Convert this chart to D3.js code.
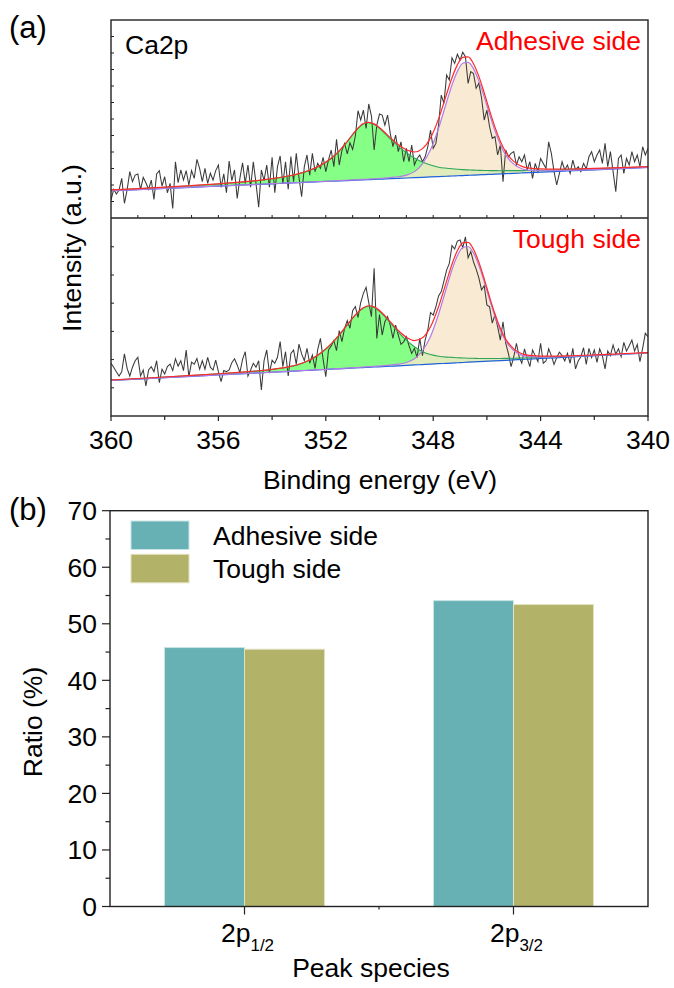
<!DOCTYPE html>
<html>
<head>
<meta charset="utf-8">
<script src="https://cdn.jsdelivr.net/npm/d3@7"></script>
<style>
  body { margin: 0; background: #fff; }
  text { font-family: "Liberation Sans", Arial, Helvetica, sans-serif; fill: #000; }
</style>
</head>
<body>
<svg id="fig" width="674" height="988"></svg>
<script>
// ---------- (a) Ca2p XPS spectra ----------
// raw spectra sampled every 0.1 eV from 360 eV down to 340 eV
const energyStart = 360;
const energyStep = 0.1;

const adhesiveCounts = [
  10.9, 17.4, 14.5, 17.0, 24.0, 8.9, 17.0, 28.1, 22.0, 26.0,
  26.7, 17.0, 24.6, 21.4, 17.4, 23.0, 11.3, 26.7, 28.7, 19.4,
  25.0, 15.3, 21.0, 5.8, 34.1, 21.4, 29.1, 23.0, 28.7, 20.0,
  28.7, 24.0, 35.5, 30.1, 22.0, 30.1, 21.0, 27.1, 23.0, 28.7,
  32.1, 18.6, 26.7, 15.3, 34.5, 22.6, 29.1, 11.9, 24.0, 33.5,
  21.0, 32.1, 18.6, 34.1, 21.0, 6.5, 29.1, 22.6, 32.1, 18.6,
  36.8, 15.3, 31.1, 37.6, 20.6, 34.1, 17.4, 37.2, 22.0, 39.2,
  24.6, 12.9, 31.1, 38.2, 26.0, 39.2, 28.1, 33.1, 30.1, 36.8,
  28.1, 35.1, 41.2, 31.1, 47.7, 32.1, 40.8, 45.2, 38.8, 45.6,
  41.6, 49.7, 65.0, 59.4, 65.4, 54.3, 69.1, 61.8, 41.2, 56.3,
  63.0,
  62.4, 56.3, 62.4, 51.3, 43.2, 50.3, 40.2, 46.2, 34.1, 42.2,
  34.1, 44.2, 32.1, 36.1, 38.2, 34.1, 37.1, 43.2, 53.3, 42.2,
  45.2, 56.3, 74.5, 69.5, 86.6, 83.6, 97.1, 93.7, 99.2, 95.7,
  100.4, 97.7, 81.6, 88.7, 87.6, 78.6, 81.6, 72.9, 59.4, 65.4,
  55.3, 48.3, 49.3, 38.2, 44.2, 22.0, 41.2, 37.1, 39.2, 40.2,
  32.1, 37.1, 34.1, 38.2, 29.1, 34.1, 24.0, 33.1, 28.1, 36.1,
  33.1, 30.1, 46.2, 39.2, 28.1, 20.0, 27.0, 34.1, 29.1, 32.1,
  27.0, 35.1, 29.1, 31.1, 28.1, 33.1, 29.7, 37.1, 40.2, 34.1,
  38.2, 41.2, 33.1, 45.2, 31.1, 40.2, 28.1, 15.9, 36.1, 38.2,
  27.0, 36.1, 32.1, 40.2, 34.1, 38.2, 31.1, 43.2, 38.2, 42.2
];

const toughCounts = [
  18.7, 17.3, 15.7, 14.2, 15.7, 22.0, 16.9, 14.2, 17.3, 19.6,
  20.8, 14.2, 16.3, 10.7, 16.3, 17.5, 15.7, 19.6, 11.8, 16.6,
  14.9, 17.5, 18.4, 16.1, 20.3, 17.7, 19.6, 16.1, 23.4, 13.9,
  19.1, 18.4, 20.4, 16.6, 19.6, 16.6, 20.8, 17.3, 16.3, 19.8,
  15.7, 12.2, 16.1, 15.7, 16.3, 18.9, 20.3, 18.1, 15.4, 20.1,
  22.8, 14.2, 16.3, 18.7, 17.3, 19.6, 9.2, 19.6, 23.4, 15.2,
  19.8, 18.7, 20.8, 26.4, 17.5, 22.8, 14.2, 22.2, 23.4, 18.4,
  25.5, 22.0, 19.6, 24.0, 18.7, 21.6, 16.9, 23.6, 27.5, 20.1,
  13.9, 23.4, 24.8, 26.7, 23.2, 30.3, 26.4, 31.1, 33.8, 31.1,
  37.3, 38.8, 35.0, 40.2, 43.5, 45.6, 40.2, 35.2, 52.4, 27.5,
  36.0,
  28.7, 33.4, 35.2, 32.2, 27.5, 32.2, 28.7, 25.4, 26.3, 28.1,
  24.9, 22.2, 24.0, 20.7, 27.5, 21.4, 26.9, 30.5, 36.7, 35.8,
  38.7, 42.6, 44.1, 47.8, 51.7, 54.1, 60.4, 59.2, 62.0, 62.4,
  59.7, 63.5, 56.1, 58.3, 54.7, 52.1, 49.0, 44.7, 46.2, 39.4,
  38.7, 32.9, 35.8, 31.7, 26.9, 33.4, 25.8, 22.2, 17.5, 21.0,
  25.8, 21.0, 18.7, 23.8, 20.4, 17.5, 23.4, 21.4, 19.3, 25.8,
  18.7, 19.5, 23.8, 21.4, 18.3, 20.7, 22.6, 21.4, 19.5, 22.2,
  18.7, 24.0, 16.7, 19.5, 21.0, 24.2, 18.3, 24.0, 20.7, 23.4,
  19.0, 23.8, 21.4, 16.7, 23.0, 21.4, 25.2, 21.9, 23.8, 21.0,
  26.1, 23.0, 24.9, 26.9, 23.0, 25.4, 19.3, 24.0, 29.3, 28.1
];

// fitted components (height above the linear background), tabulated on fitEnergy
const fitEnergy = [
  360, 359, 358, 357, 356, 355, 354.5, 354, 353.5, 353,
  352.6, 352.2, 351.8, 351.5, 351.2, 350.9, 350.6, 350.4, 350.2,
  349.9, 349.6, 349.3, 349.0, 348.7, 348.4, 348.1,
  347.8, 347.5, 347.3, 347.1, 346.9, 346.7, 346.5, 346.3, 346.1,
  345.9, 345.7, 345.5, 345.3, 345.0, 344.7, 344.4, 344.0,
  343.5, 343, 342, 341, 340
];
const adhesive2p12 = [
  0.45, 0.56, 0.72, 0.95, 1.3, 1.9, 2.37, 3.02, 3.97, 5.41,
  7.15, 9.76, 13.76, 18.06, 23.51, 29.57, 33.88, 34.42, 33.27,
  29.27, 24.18, 19.33, 15.39, 11.9, 9.2, 7.2,
  5.7, 4.85, 4.36, 3.94, 3.58, 3.27, 2.97, 2.73, 2.48,
  2.3, 2.12, 1.94, 1.82, 1.64, 1.45, 1.33, 1.15,
  0.97, 0.85, 0.67, 0.55, 0.42
];
const adhesive2p32 = [
  0.03, 0.03, 0.05, 0.06, 0.06, 0.07, 0.08, 0.09, 0.09, 0.09,
  0.1, 0.12, 0.12, 0.15, 0.18, 0.21, 0.24, 0.3, 0.36,
  0.48, 0.67, 0.97, 1.7, 3.64, 8.18, 16.42,
  29.27, 44.97, 55.15, 63.27, 68.05, 68.48, 64.54, 56.96, 47.09,
  36.42, 26.36, 17.88, 11.39, 5.58, 2.55, 1.39, 0.85,
  0.55, 0.36, 0.18, 0.12, 0.06
];
const tough2p12 = [
  0.14, 0.18, 0.22, 0.29, 0.4, 0.59, 0.73, 0.98, 1.42, 2.3,
  3.62, 5.78, 8.94, 11.95, 15.39, 18.72, 21.1, 21.63, 21.1,
  18.72, 15.39, 11.95, 8.94, 6.45, 4.57, 3.4,
  2.66, 2.2, 1.99, 1.77, 1.6, 1.42, 1.28, 1.13, 1.03,
  0.92, 0.82, 0.74, 0.67, 0.57, 0.5, 0.43, 0.35,
  0.3, 0.25, 0.18, 0.14, 0.11
];
const tough2p32 = [
  0.04, 0.04, 0.04, 0.04, 0.04, 0.04, 0.04, 0.04, 0.04, 0.05,
  0.05, 0.07, 0.07, 0.09, 0.11, 0.12, 0.14, 0.18, 0.21,
  0.28, 0.39, 0.57, 1.03, 2.16, 4.89, 9.82,
  17.55, 26.95, 33.05, 37.91, 40.78, 41.03, 38.65, 34.15, 28.23,
  21.81, 15.78, 10.71, 6.84, 3.33, 1.52, 0.85, 0.5,
  0.32, 0.21, 0.11, 0.07, 0.04
];
// linear background at 360 eV and 340 eV
const backgroundEnergy = [360, 340];
const adhesiveBackground = [16.5, 30.6];
const toughBackground = [12.59, 22.34];

const energyTicks = [360, 356, 352, 348, 344, 340];
const energyMinorTicks = [358, 354, 350, 346, 342];

// ---------- (b) peak ratios ----------
const peakSpecies = ["2p1/2", "2p3/2"];
const peakLabelMain = ["2p", "2p"];
const peakLabelSub = ["1/2", "3/2"];
const sideNames = ["Adhesive side", "Tough side"];
const adhesiveRatio = [45.8, 54.1];
const toughRatio = [45.5, 53.4];
const ratioTicks = [0, 10, 20, 30, 40, 50, 60, 70];
const ratioMinorTicks = [5, 15, 25, 35, 45, 55, 65];

// ---------- drawing ----------
const svg = d3.select("#fig");
const FONT = 26.5;
const AXIS = "#222";

// panel (a) frame
const A = { left: 111, right: 648, top: 20, mid: 218, bottom: 416 };
const x = d3.scaleLinear().domain([360, 340]).range([A.left, A.right]);

const panels = [
  { name: "adhesive", counts: adhesiveCounts, c12: adhesive2p12, c32: adhesive2p32,
    bg: adhesiveBackground, y: d3.scaleLinear().domain([0, 120]).range([A.mid, A.top]),
    ticks: d3.range(10, 120, 10), top: A.top, bottom: A.mid, label: "Adhesive side" },
  { name: "tough", counts: toughCounts, c12: tough2p12, c32: tough2p32,
    bg: toughBackground, y: d3.scaleLinear().domain([0, 70.2]).range([A.bottom, A.mid]),
    ticks: d3.range(10, 70, 10), top: A.mid, bottom: A.bottom, label: "Tough side" }
];

const defs = svg.append("defs");

panels.forEach(p => {
  defs.append("clipPath").attr("id", "clip-" + p.name)
    .append("rect").attr("x", A.left).attr("y", p.top)
    .attr("width", A.right - A.left).attr("height", p.bottom - p.top);

  const bgScale = d3.scaleLinear().domain(backgroundEnergy).range(p.bg);
  const fit = fitEnergy.map((e, i) => ({ e, b: bgScale(e), g: p.c12[i], o: p.c32[i] }));
  const raw = p.counts.map((v, i) => ({ e: energyStart - i * energyStep, v }));

  const g = svg.append("g").attr("clip-path", `url(#clip-${p.name})`);
  const curve = d3.curveMonotoneX;

  // filled components
  g.append("path").datum(fit)
    .attr("d", d3.area().curve(curve).x(d => x(d.e)).y0(d => p.y(d.b)).y1(d => p.y(d.b + d.g)))
    .attr("fill", "#80ff80").attr("fill-opacity", 0.95);
  g.append("path").datum(fit)
    .attr("d", d3.area().curve(curve).x(d => x(d.e)).y0(d => p.y(d.b)).y1(d => p.y(d.b + d.o)))
    .attr("fill", "#f8e6c8").attr("fill-opacity", 0.8);

  // measured spectrum
  g.append("path").datum(raw)
    .attr("d", d3.line().x(d => x(d.e)).y(d => p.y(d.v)))
    .attr("fill", "none").attr("stroke", "#3a3a3a").attr("stroke-width", 1.05);

  // background and component lines, then envelope
  const ln = acc => d3.line().curve(curve).x(d => x(d.e)).y(d => p.y(acc(d)));
  g.append("path").datum(fit).attr("d", ln(d => d.b))
    .attr("fill", "none").attr("stroke", "#1f62d8").attr("stroke-width", 1.2);
  g.append("path").datum(fit).attr("d", ln(d => d.b + d.g))
    .attr("fill", "none").attr("stroke", "#2ea55a").attr("stroke-width", 1.1);
  g.append("path").datum(fit).attr("d", ln(d => d.b + d.o))
    .attr("fill", "none").attr("stroke", "#b27ce6").attr("stroke-width", 1.2);
  g.append("path").datum(fit).attr("d", ln(d => d.b + d.g + d.o))
    .attr("fill", "none").attr("stroke", "#ff2a2a").attr("stroke-width", 1.2);

  // inward intensity ticks on the left edge
  svg.append("g").selectAll("line").data(p.ticks).join("line")
    .attr("x1", A.left).attr("x2", A.left + 3)
    .attr("y1", d => p.y(d)).attr("y2", d => p.y(d))
    .attr("stroke", AXIS).attr("stroke-width", 1);

  svg.append("text").attr("x", 641).attr("y", p.top + 29.5)
    .attr("text-anchor", "end").style("fill", "#ff0000")
    .attr("font-size", FONT).text(p.label);
});

// ticks every 1 eV along the divider
svg.append("g").selectAll("line").data(d3.range(359, 340, -1)).join("line")
  .attr("x1", d => x(d)).attr("x2", d => x(d))
  .attr("y1", A.mid).attr("y2", A.mid - 3)
  .attr("stroke", AXIS).attr("stroke-width", 1);

// frame of panel (a)
svg.append("rect").attr("x", A.left).attr("y", A.top)
  .attr("width", A.right - A.left).attr("height", A.bottom - A.top)
  .attr("fill", "none").attr("stroke", AXIS).attr("stroke-width", 1.4);
svg.append("line").attr("x1", A.left).attr("x2", A.right)
  .attr("y1", A.mid).attr("y2", A.mid).attr("stroke", AXIS).attr("stroke-width", 1.4);

// energy axis
const xAxis = svg.append("g").attr("transform", `translate(0,${A.bottom})`);
xAxis.selectAll("line.maj").data(energyTicks).join("line")
  .attr("x1", d => x(d)).attr("x2", d => x(d)).attr("y1", 0).attr("y2", 5)
  .attr("stroke", AXIS).attr("stroke-width", 1.2);
xAxis.selectAll("line.min").data(energyMinorTicks).join("line")
  .attr("x1", d => x(d)).attr("x2", d => x(d)).attr("y1", 0).attr("y2", 4)
  .attr("stroke", AXIS).attr("stroke-width", 1.2);
xAxis.selectAll("text").data(energyTicks).join("text")
  .attr("x", d => x(d)).attr("y", 33).attr("text-anchor", "middle")
  .attr("font-size", FONT).text(d => d);

svg.append("text").attr("x", 380).attr("y", 489).attr("text-anchor", "middle")
  .attr("font-size", FONT).text("Binding energy (eV)");
svg.append("text").attr("transform", "translate(81,248) rotate(-90)")
  .attr("text-anchor", "middle").attr("font-size", FONT).text("Intensity (a.u.)");
svg.append("text").attr("x", 125).attr("y", 54).attr("font-size", FONT).text("Ca2p");
svg.append("text").attr("x", 9).attr("y", 38).attr("font-size", 31).text("(a)");

// ---------- panel (b) ----------
const B = { left: 110, right: 648, top: 510.7, bottom: 906.5 };
const yb = d3.scaleLinear().domain([0, 70]).range([B.bottom, B.top]);
const xb = d3.scaleBand().domain(peakSpecies).range([B.left, B.right])
  .paddingInner(0.405).paddingOuter(0.2026);
const xs = d3.scaleBand().domain(sideNames).range([0, xb.bandwidth()]);
const sideColor = d3.scaleOrdinal().domain(sideNames).range(["#67b1b4", "#b2b269"]);
const sideEdge = d3.scaleOrdinal().domain(sideNames).range(["#c9e4e4", "#e2e2c0"]);

const rows = peakSpecies.map((s, i) => ({
  s, values: [
    { side: sideNames[0], v: adhesiveRatio[i] },
    { side: sideNames[1], v: toughRatio[i] }
  ]
}));

svg.append("g").selectAll("g").data(rows).join("g")
  .attr("transform", d => `translate(${xb(d.s)},0)`)
  .selectAll("rect").data(d => d.values).join("rect")
  .attr("x", d => xs(d.side)).attr("width", xs.bandwidth())
  .attr("y", d => yb(d.v)).attr("height", d => yb(0) - yb(d.v))
  .attr("fill", d => sideColor(d.side))
  .attr("stroke", d => sideEdge(d.side)).attr("stroke-width", 1);

// frame
svg.append("rect").attr("x", B.left).attr("y", B.top)
  .attr("width", B.right - B.left).attr("height", B.bottom - B.top)
  .attr("fill", "none").attr("stroke", AXIS).attr("stroke-width", 1.4);

// y axis
const yAxis = svg.append("g").attr("transform", `translate(${B.left},0)`);
yAxis.selectAll("line.maj").data(ratioTicks).join("line")
  .attr("x1", -8).attr("x2", 0).attr("y1", d => yb(d)).attr("y2", d => yb(d))
  .attr("stroke", AXIS).attr("stroke-width", 1.2);
yAxis.selectAll("line.min").data(ratioMinorTicks).join("line")
  .attr("x1", -4.5).attr("x2", 0).attr("y1", d => yb(d)).attr("y2", d => yb(d))
  .attr("stroke", AXIS).attr("stroke-width", 1.2);
yAxis.selectAll("text").data(ratioTicks).join("text")
  .attr("x", -13).attr("y", d => yb(d) + 9.3).attr("text-anchor", "end")
  .attr("font-size", FONT).text(d => d);

// category axis
const xbAxis = svg.append("g").attr("transform", `translate(0,${B.bottom})`);
xbAxis.selectAll("line").data(peakSpecies).join("line")
  .attr("x1", d => xb(d) + xb.bandwidth() / 2).attr("x2", d => xb(d) + xb.bandwidth() / 2)
  .attr("y1", 0).attr("y2", 8).attr("stroke", AXIS).attr("stroke-width", 1.2);
const midTick = (xb(peakSpecies[0]) + xb(peakSpecies[1]) + xb.bandwidth()) / 2;
xbAxis.append("line").attr("x1", midTick).attr("x2", midTick).attr("y1", 0).attr("y2", 3)
  .attr("stroke", AXIS).attr("stroke-width", 1.2);
const catText = xbAxis.selectAll("text").data(peakSpecies).join("text")
  .attr("x", d => xb(d) + xb.bandwidth() / 2 + 3).attr("y", 35.5)
  .attr("text-anchor", "middle").attr("font-size", FONT);
catText.append("tspan").text((d, i) => peakLabelMain[i]);
catText.append("tspan").attr("dy", 9).attr("font-size", 17).text((d, i) => peakLabelSub[i]);

svg.append("text").attr("x", 371).attr("y", 977).attr("text-anchor", "middle")
  .attr("font-size", FONT).text("Peak species");
svg.append("text").attr("transform", "translate(42,722) rotate(-90)")
  .attr("text-anchor", "middle").attr("font-size", FONT).text("Ratio (%)");
svg.append("text").attr("x", 9).attr("y", 520).attr("font-size", 31).text("(b)");

// legend
const legend = svg.append("g").selectAll("g").data(sideNames).join("g")
  .attr("transform", (d, i) => `translate(131,${521 + i * 33.3})`);
legend.append("rect").attr("width", 58).attr("height", 28.5)
  .attr("fill", d => sideColor(d)).attr("stroke", d => sideEdge(d)).attr("stroke-width", 1);
legend.append("text").attr("x", 82).attr("y", 23.5).attr("font-size", FONT).text(d => d);
</script>
</body>
</html>
